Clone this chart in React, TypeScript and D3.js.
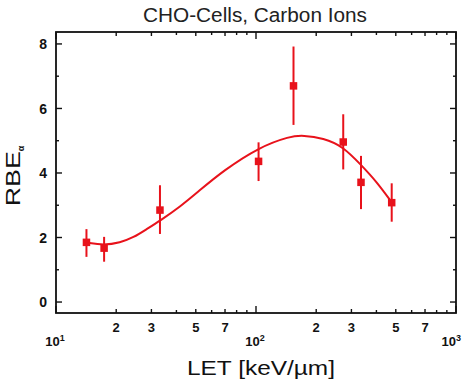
import React, { useRef, useEffect } from "react";
import * as d3 from "d3";

// measured points (LET in keV/um, RBE alpha)
const letValues = [14.2, 17.4, 33.1, 103, 154, 273, 335, 477];
const rbeValues = [1.85, 1.67, 2.85, 4.36, 6.7, 4.96, 3.71, 3.08];
const rbeLow = [1.4, 1.25, 2.11, 3.75, 5.49, 4.11, 2.88, 2.49];
const rbeHigh = [2.26, 2.02, 3.62, 4.95, 7.92, 5.82, 4.53, 3.68];

// fitted curve
const fitLet = [14.2, 17.4, 20.9, 24.4, 28.4, 33.1, 41.7, 52, 68.6, 103.5, 148, 172, 217, 273, 335, 401, 477];
const fitRbe = [1.84, 1.76, 1.84, 2.0, 2.26, 2.52, 2.95, 3.45, 4.07, 4.8, 5.14, 5.17, 5.08, 4.82, 4.25, 3.73, 3.09];

const yTicks = [0, 1, 2, 3, 4, 5, 6, 7, 8];
const yLabels = [0, 2, 4, 6, 8];
const decades = [10, 100, 1000];
const decadeExp = ["1", "2", "3"];
const minorLabels = ["2", "3", "5", "7"];

const RED = "#e8121b";

export default function App() {
  const svgRef = useRef<SVGSVGElement>(null);

  useEffect(() => {
    const width = 462;
    const height = 381;
    const left = 56;
    const right = 456;
    const top = 32;
    const bottom = 313;

    const svg = d3.select(svgRef.current);
    svg.selectAll("*").remove();
    svg.attr("width", width).attr("height", height);

    const x = d3.scaleLog().domain([10, 1000]).range([left, right]);
    const y = d3.scaleLinear().domain([-0.34, 8.37]).range([bottom, top]);

    const font = "'Liberation Sans', Arial, Helvetica, sans-serif";

    // title
    svg
      .append("text")
      .attr("x", 255)
      .attr("y", 22)
      .attr("text-anchor", "middle")
      .attr("textLength", 224)
      .attr("lengthAdjust", "spacingAndGlyphs")
      .style("font-family", font)
      .style("font-size", "20px")
      .style("fill", "#222")
      .text("CHO-Cells, Carbon Ions");

    // x ticks (top and bottom, inward)
    const minorTicks: number[] = [];
    decades.slice(0, 2).forEach((d) => {
      for (let k = 2; k <= 9; k++) minorTicks.push(d * k);
    });
    const ticksG = svg.append("g").attr("stroke", "#111").attr("stroke-width", 1.4);
    const xTickLen = (v: number) => {
      if (decades.includes(v)) return 7;
      const m = Math.round(v / Math.pow(10, Math.floor(Math.log10(v) + 1e-9)));
      return [2, 3, 5, 7].includes(m) ? 4 : 3;
    };
    [...decades, ...minorTicks].forEach((v) => {
      const len = xTickLen(v);
      ticksG.append("line").attr("x1", x(v)).attr("x2", x(v)).attr("y1", bottom).attr("y2", bottom - len);
      ticksG.append("line").attr("x1", x(v)).attr("x2", x(v)).attr("y1", top).attr("y2", top + len);
    });

    // y ticks (left and right, inward)
    yTicks.forEach((v) => {
      const len = yLabels.includes(v) ? 6 : 3;
      ticksG.append("line").attr("x1", left).attr("x2", left + len).attr("y1", y(v)).attr("y2", y(v));
      ticksG.append("line").attr("x1", right).attr("x2", right - len).attr("y1", y(v)).attr("y2", y(v));
    });

    // frame
    svg
      .append("rect")
      .attr("x", left)
      .attr("y", top)
      .attr("width", right - left)
      .attr("height", bottom - top)
      .attr("fill", "none")
      .attr("stroke", "#111")
      .attr("stroke-width", 1.8);

    // y tick labels
    svg
      .selectAll("text.ylab")
      .data(yLabels)
      .enter()
      .append("text")
      .attr("class", "ylab")
      .attr("x", 47)
      .attr("y", (d) => y(d))
      .attr("dy", "0.36em")
      .attr("text-anchor", "end")
      .style("font-family", font)
      .style("font-size", "14px")
      .style("font-weight", "bold")
      .style("fill", "#111")
      .text((d) => d);

    // x minor tick labels (2,3,5,7 in each decade)
    decades.slice(0, 2).forEach((d) => {
      minorLabels.forEach((m) => {
        svg
          .append("text")
          .attr("x", x(d * +m))
          .attr("y", 332)
          .attr("text-anchor", "middle")
          .style("font-family", font)
          .style("font-size", "13px")
          .style("font-weight", "bold")
          .style("fill", "#111")
          .text(m);
      });
    });

    // decade labels 10^n (last one is pinned to the right edge)
    decades.forEach((d, i) => {
      const last = i === decades.length - 1;
      const t = svg
        .append("text")
        .attr("x", last ? 461 : x(d) - 1)
        .attr("y", 346)
        .attr("text-anchor", last ? "end" : "middle")
        .style("font-family", font)
        .style("font-size", "13px")
        .style("font-weight", "bold")
        .style("fill", "#111");
      t.append("tspan").text("10");
      t.append("tspan").attr("dy", -5).style("font-size", "9px").text(decadeExp[i]);
    });

    // axis titles
    svg
      .append("text")
      .attr("x", 261)
      .attr("y", 375)
      .attr("text-anchor", "middle")
      .attr("textLength", 148)
      .attr("lengthAdjust", "spacingAndGlyphs")
      .style("font-family", font)
      .style("font-size", "20px")
      .style("fill", "#111")
      .text("LET  [keV/\u00b5m]");

    const yt = svg
      .append("text")
      .attr("transform", "translate(20,176) rotate(-90)")
      .attr("text-anchor", "middle")
      .style("font-family", font)
      .style("font-size", "20px")
      .style("fill", "#111");
    yt.append("tspan").attr("textLength", 55).attr("lengthAdjust", "spacingAndGlyphs").text("RBE");
    yt.append("tspan").attr("dy", 4).style("font-size", "9px").style("font-weight", "bold").text("\u03b1");

    // fitted curve
    const line = d3
      .line<number>()
      .x((d, i) => x(fitLet[i]))
      .y((d) => y(d))
      .curve(d3.curveBasis);
    svg
      .append("path")
      .attr("d", line(fitRbe))
      .attr("fill", "none")
      .attr("stroke", RED)
      .attr("stroke-width", 2);

    // error bars
    svg
      .selectAll("line.err")
      .data(letValues)
      .enter()
      .append("line")
      .attr("class", "err")
      .attr("x1", (d) => x(d))
      .attr("x2", (d) => x(d))
      .attr("y1", (d, i) => y(rbeLow[i]))
      .attr("y2", (d, i) => y(rbeHigh[i]))
      .attr("stroke", RED)
      .attr("stroke-width", 2);

    // markers
    const s = 7.5;
    svg
      .selectAll("rect.pt")
      .data(letValues)
      .enter()
      .append("rect")
      .attr("class", "pt")
      .attr("x", (d) => x(d) - s / 2)
      .attr("y", (d, i) => y(rbeValues[i]) - s / 2)
      .attr("width", s)
      .attr("height", s)
      .attr("fill", RED);
  }, []);

  return (
    <svg
      ref={svgRef}
      style={{ position: "absolute", left: 0, top: 0, background: "#fff" }}
    ></svg>
  );
}
